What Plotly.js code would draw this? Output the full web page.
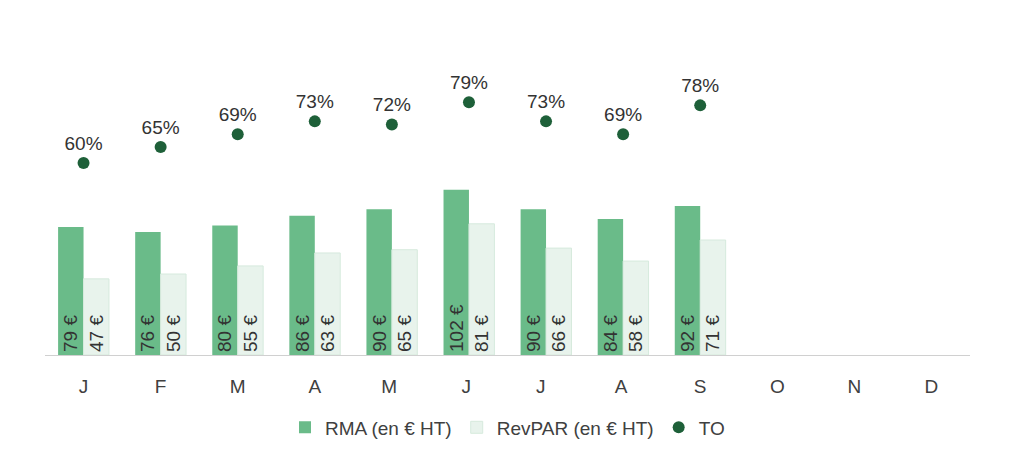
<!DOCTYPE html>
<html><head><meta charset="utf-8">
<script src="https://cdn.plot.ly/plotly-3.0.1.min.js"></script>
<style>body{margin:0}#graph{width:1024px;height:461px}</style>
</head><body><div id="graph"></div>
<script>
var months = ['J', 'F', 'M', 'A', 'M ', 'J ', 'J  ', 'A ', 'S', 'O', 'N', 'D'];
var rma = [79, 76, 80, 86, 90, 102, 90, 84, 92, null, null, null];
var revpar = [47, 50, 55, 63, 65, 81, 66, 58, 71, null, null, null];
var to = [0.60, 0.65, 0.69, 0.73, 0.72, 0.79, 0.73, 0.69, 0.78, null, null, null];

function euro(v) { return v.map(function (d) { return d == null ? '' : d + ' €'; }); }

var labelFont = { family: 'Liberation Sans, Arial', size: 19, color: '#333' };

var data = [
  {
    type: 'bar', name: 'RMA (en € HT)', x: months, y: rma,
    text: euro(rma), textposition: 'inside', insidetextanchor: 'start', textangle: -90,
    textfont: labelFont, marker: { color: '#6abb89' }
  },
  {
    type: 'bar', name: 'RevPAR (en € HT)', x: months, y: revpar,
    text: euro(revpar), textposition: 'inside', insidetextanchor: 'start', textangle: -90,
    textfont: labelFont, marker: { color: '#e8f3ec', line: { color: '#d6eadd', width: 1 } }
  },
  {
    type: 'scatter', mode: 'markers+text', name: 'TO', x: months, y: to, yaxis: 'y2',
    text: to.map(function (d) { return d == null ? '' : Math.round(d * 100) + '%'; }),
    textposition: 'top center', textfont: labelFont,
    marker: { color: '#1e6039', size: 12 }, cliponaxis: false
  }
];

var layout = {
  width: 1024, height: 461,
  margin: { l: 45, r: 54, t: 10, b: 106 },
  paper_bgcolor: '#fff', plot_bgcolor: '#fff',
  font: { family: 'Liberation Sans, Arial', color: '#404040' },
  barmode: 'group', bargap: 0.34, bargroupgap: 0,
  uniformtext: { minsize: 19, mode: 'show' },
  xaxis: {
    range: [-0.5, 11.5], showline: true, linecolor: '#d0d0d0', ticks: '', showgrid: false,
    ticklabelstandoff: 14, tickfont: { size: 19, color: '#404040' }
  },
  yaxis: { range: [0, 213], visible: false, showgrid: false, zeroline: false },
  yaxis2: { range: [0, 1.078], overlaying: 'y', visible: false, showgrid: false, zeroline: false },
  showlegend: true,
  legend: {
    orientation: 'h', x: 0.5, xanchor: 'center', y: -0.21, yanchor: 'middle',
    font: { size: 19, color: '#404040' }, traceorder: 'normal', itemwidth: 30
  }
};

Plotly.newPlot('graph', data, layout, { displayModeBar: false, staticPlot: true });
</script></body></html>
